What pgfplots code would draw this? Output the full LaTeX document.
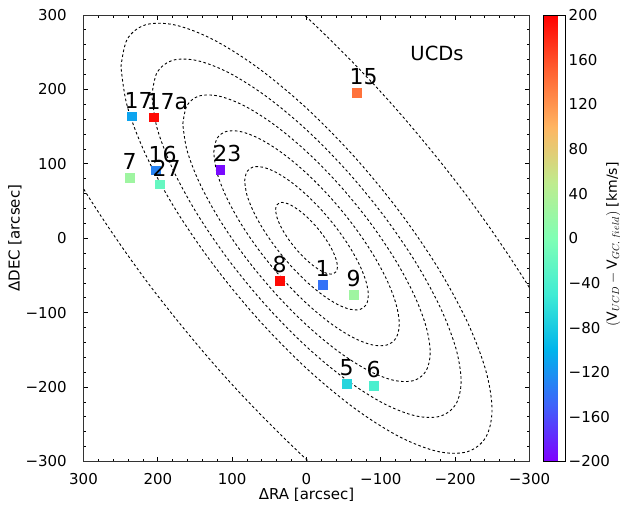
\documentclass[border=0pt]{standalone}
\usepackage{pgfplots}
\pgfplotsset{compat=1.18}
\usepackage{pgfplotstable}
\usepackage{fontspec}
\setmainfont{DejaVu Sans}

\pgfplotsset{colormap={mplrainbow}{rgb=(0.5,0,1) rgb=(0.25,0.383,0.981) rgb=(0,0.707,0.924) rgb=(0.25,0.924,0.831) rgb=(0.5,1,0.707) rgb=(0.75,0.924,0.556) rgb=(1,0.707,0.383) rgb=(1,0.383,0.195) rgb=(1,0,0)}}

% unit contour (scaled by k below)
\pgfplotstableread{
x y
41.60 38.39
40.18 44.62
36.03 47.82
29.42 47.75
20.80 44.43
10.77 38.08
0.00 29.14
-10.77 18.21
-20.80 6.04
-29.42 -6.54
-36.03 -18.68
-40.18 -29.54
-41.60 -38.39
-40.18 -44.62
-36.03 -47.82
-29.42 -47.75
-20.80 -44.43
-10.77 -38.08
0.00 -29.14
10.77 -18.21
20.80 -6.04
29.42 6.54
36.03 18.68
40.18 29.54
41.60 38.39
}\unitell

\pgfplotstableread{
x y v label
235.4 164.0 -110 17
205.8 162.5 195 17a
238.1 81.6 25 7
203.1 91.4 -130 16
197.8 72.6 -20 27
116.0 92.4 -195 23
-67.3 195.9 140 15
36.3 -56.8 195 8
-21.5 -62.1 -140 1
-63.2 -75.6 25 9
-53.8 -195.2 -70 5
-90.1 -197.9 -40 6
}\ucds

\newcommand{\tickfont}{\fontsize{15}{18}\selectfont}

\begin{document}
\begin{tikzpicture}
\begin{axis}[
  scale only axis, width=446pt, height=446.5pt,
  xmin=-300, xmax=300, ymin=-300, ymax=300,
  x dir=reverse,
  xtick={-300,-200,...,300},
  xticklabels={−300,−200,−100,0,100,200,300},
  ytick={-300,-200,...,300},
  yticklabels={−300,−200,−100,0,100,200,300},
  minor tick num=4,
  tick align=inside,
  major tick length=5pt, minor tick length=3pt,
  tick style={black, line width=0.8pt},
  axis line style={black!80, line width=1pt},
  ticklabel style={font=\tickfont},
  xticklabel style={inner sep=0pt, anchor=center, yshift=-18pt},
  yticklabel style={inner sep=0pt, anchor=east, xshift=-16.5pt},
  xlabel={ΔRA [arcsec]},
  ylabel={ΔDEC [arcsec]},
  label style={font=\tickfont},
  xlabel style={at={(axis description cs:0.5,-0.0751)}, anchor=center, inner sep=0pt},
  ylabel style={at={(axis description cs:-0.1536,0.5)}, anchor=center, inner sep=0pt},
  colormap name=mplrainbow,
  point meta min=-200, point meta max=200,
  colorbar,
  colorbar style={
    at={(parent axis.north east)}, anchor=north west, xshift=5.5pt,
    width=22pt,
    ytick={-200,-160,...,200},
    yticklabels={−200,−160,−120,−80,−40,0,40,80,120,160,200},
    yticklabel style={font=\tickfont, inner sep=0pt, anchor=west, xshift=3pt},
    major tick length=0pt, minor tick num=0,
    axis line style={black, line width=0.8pt},
    ylabel={$(\mathrm{V}_{UCD}-\mathrm{V}_{GC,\,field})$ [km/s]},
    ylabel style={font=\fontsize{14}{17}\selectfont, at={(axis description cs:3.18,0.486)}, anchor=center, inner sep=0pt},
  },
  ell/.style={black, line width=0.9pt, dash pattern=on 2.6pt off 2.4pt, smooth, tension=0.55},
]
\addplot[ell] table[x expr=\thisrow{x}*1, y expr=\thisrow{y}*1] {\unitell};
\addplot[ell] table[x expr=\thisrow{x}*2, y expr=\thisrow{y}*2] {\unitell};
\addplot[ell] table[x expr=\thisrow{x}*3, y expr=\thisrow{y}*3] {\unitell};
\addplot[ell] table[x expr=\thisrow{x}*4, y expr=\thisrow{y}*4] {\unitell};
\addplot[ell] table[x expr=\thisrow{x}*5, y expr=\thisrow{y}*5] {\unitell};
\addplot[ell] table[x expr=\thisrow{x}*6, y expr=\thisrow{y}*6] {\unitell};
\addplot[ell] table[x expr=\thisrow{x}*10.2, y expr=\thisrow{y}*10.2] {\unitell};
\addplot[scatter, only marks, mark=square*, mark size=4.3pt,
  point meta=explicit,
  scatter/use mapped color={draw=mapped color, fill=mapped color},
] table[x=x, y=y, meta=v] {\ucds};
\addplot[only marks, mark=none,
  point meta=explicit symbolic,
  nodes near coords,
  nodes near coords style={anchor=base west, inner sep=0pt, xshift=-7pt, yshift=8pt, font=\fontsize{22}{26}\selectfont, text=black},
] table[x=x, y=y, meta=label] {\ucds};
\node[font=\fontsize{19.5}{22}\selectfont] at (axis cs:-175.6,249) {UCDs};
\end{axis}
\pgfresetboundingbox
\path[use as bounding box] (-83.5pt,-50.5pt) rectangle (536.5pt,461.5pt);
\end{tikzpicture}
\end{document}
